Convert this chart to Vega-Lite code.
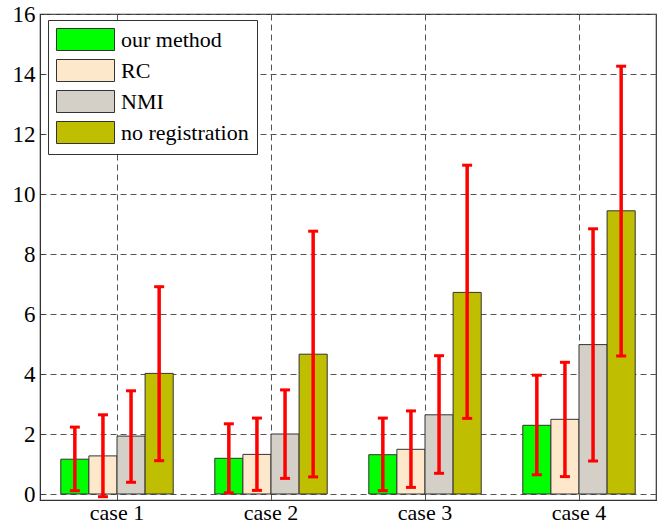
{
  "$schema": "https://vega.github.io/schema/vega-lite/v6.json",
  "width": 616,
  "height": 486,
  "autosize": "none",
  "padding": {"left": 40, "top": 14, "right": 2, "bottom": 27},
  "background": "white",
  "config": {
    "font": "Liberation Serif",
    "view": {"stroke": "#333333", "strokeWidth": 1.2},
    "axis": {"labelFont": "Liberation Serif", "labelColor": "#000000", "domainColor": "#333333", "tickColor": "#333333", "gridColor": "#555555", "gridDash": [6, 4], "gridWidth": 1, "gridOpacity": 1}
  },
  "data": {
    "values": [
      {"case": "case 1", "method": "our method", "value": 1.16, "lo": 0.11, "hi": 2.23},
      {"case": "case 1", "method": "RC", "value": 1.27, "lo": -0.09, "hi": 2.64},
      {"case": "case 1", "method": "NMI", "value": 1.93, "lo": 0.39, "hi": 3.44},
      {"case": "case 1", "method": "no registration", "value": 4.02, "lo": 1.11, "hi": 6.91},
      {"case": "case 2", "method": "our method", "value": 1.19, "lo": 0.04, "hi": 2.34},
      {"case": "case 2", "method": "RC", "value": 1.32, "lo": 0.12, "hi": 2.53},
      {"case": "case 2", "method": "NMI", "value": 2.0, "lo": 0.52, "hi": 3.47},
      {"case": "case 2", "method": "no registration", "value": 4.66, "lo": 0.57, "hi": 8.76},
      {"case": "case 3", "method": "our method", "value": 1.31, "lo": 0.11, "hi": 2.53},
      {"case": "case 3", "method": "RC", "value": 1.49, "lo": 0.22, "hi": 2.77},
      {"case": "case 3", "method": "NMI", "value": 2.64, "lo": 0.69, "hi": 4.61},
      {"case": "case 3", "method": "no registration", "value": 6.72, "lo": 2.52, "hi": 10.96},
      {"case": "case 4", "method": "our method", "value": 2.29, "lo": 0.64, "hi": 3.96},
      {"case": "case 4", "method": "RC", "value": 2.49, "lo": 0.58, "hi": 4.39},
      {"case": "case 4", "method": "NMI", "value": 4.98, "lo": 1.1, "hi": 8.84},
      {"case": "case 4", "method": "no registration", "value": 9.44, "lo": 4.6, "hi": 14.26}
    ]
  },
  "encoding": {
    "x": {"field": "case", "type": "nominal", "title": null,
      "scale": {"paddingInner": 0.27, "paddingOuter": 0.135},
      "axis": {"labelAngle": 0, "tickSize": 0, "labelPadding": 2, "grid": true, "domain": true,
        "labelFont": "Liberation Serif", "labelFontSize": 22}},
    "xOffset": {"field": "method", "type": "nominal", "sort": ["our method", "RC", "NMI", "no registration"],
      "scale": {"paddingInner": 0, "paddingOuter": 0}}
  },
  "layer": [
    {
      "mark": {"type": "bar", "stroke": "#333333", "strokeWidth": 1},
      "encoding": {
        "y": {"field": "value", "type": "quantitative", "title": null,
          "scale": {"domain": [-0.2, 16], "nice": false, "zero": false},
          "axis": {"values": [0, 2, 4, 6, 8, 10, 12, 14, 16], "grid": true, "tickSize": -4, "labelPadding": 9,
            "labelFont": "Liberation Serif", "labelFontSize": 23}},
        "y2": {"datum": 0},
        "fill": {"field": "method", "type": "nominal", "sort": ["our method", "RC", "NMI", "no registration"],
          "scale": {"domain": ["our method", "RC", "NMI", "no registration"], "range": ["#00ff00", "#fde8cc", "#d4d0c8", "#bfbe00"]},
          "legend": {"title": null, "orient": "none", "legendX": 8, "legendY": 6,
            "symbolType": "M-1,-1L4.273,-1L4.273,1L-1,1Z", "symbolSize": 484,
            "symbolStrokeColor": "#333333", "symbolStrokeWidth": 1, "symbolOpacity": 1,
            "labelFont": "Liberation Serif", "labelFontSize": 22, "labelColor": "#000000", "labelOffset": 42,
            "padding": 8, "rowPadding": 4, "strokeColor": "#333333", "fillColor": "white"}}
      }
    },
    {
      "mark": {"type": "rule", "color": "#555555", "strokeWidth": 1},
      "encoding": {"y": {"datum": 0}}
    },
    {
      "mark": {"type": "rule", "color": "#ff0000", "strokeWidth": 3.5},
      "encoding": {
        "y": {"field": "lo", "type": "quantitative"},
        "y2": {"field": "hi"}
      }
    },
    {
      "mark": {"type": "tick", "orient": "horizontal", "color": "#ff0000", "size": 10, "thickness": 3, "opacity": 1},
      "encoding": {"y": {"field": "lo", "type": "quantitative"}}
    },
    {
      "mark": {"type": "tick", "orient": "horizontal", "color": "#ff0000", "size": 10, "thickness": 3, "opacity": 1},
      "encoding": {"y": {"field": "hi", "type": "quantitative"}}
    }
  ]
}
